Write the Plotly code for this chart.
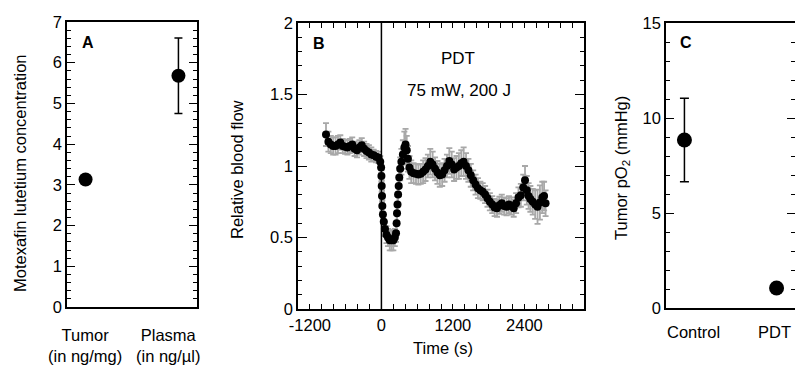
import plotly.graph_objects as go

# ---------------- Data ----------------
# Panel A
a_groups = ["Tumor", "Plasma"]
a_labels = ["Tumor<br>(in ng/mg)", "Plasma<br>(in ng/\u00b5l)"]
a_values = [3.13, 5.68]
a_errors = [0.0, 0.93]

# Panel B: relative blood flow vs time
t_s = [-930, -890, -850, -810, -770, -730, -690, -650, -610, -570, -530, -490,
       -450, -410, -370, -330, -290, -250, -210, -170, -130, -90, -50, -20,
       -5, 0, 5, 10, 15, 25, 40, 60, 85, 110, 140, 170, 200, 225, 245,
       255, 262, 270, 280, 290, 300, 315, 335, 360, 385, 405, 425, 445, 470, 500,
       540, 580, 620, 660, 700, 740, 780, 820, 860, 900, 940, 980, 1020, 1060,
       1100, 1140, 1180, 1220, 1260, 1300, 1340, 1380, 1420, 1460, 1500,
       1540, 1580, 1620, 1660, 1700, 1740, 1780, 1820, 1860, 1900, 1940, 1980,
       2020, 2060, 2100, 2140, 2180, 2220, 2260, 2300, 2340, 2380,
       2410, 2440, 2470, 2500, 2540, 2580, 2620, 2660, 2700, 2730, 2755]
flow = [1.22, 1.17, 1.15, 1.14, 1.14, 1.15, 1.165, 1.14, 1.135, 1.13, 1.14, 1.15,
        1.12, 1.11, 1.13, 1.145, 1.12, 1.105, 1.095, 1.08, 1.075, 1.065, 1.06, 1.03,
        0.99, 0.93, 0.86, 0.79, 0.72, 0.66, 0.61, 0.56, 0.52, 0.50, 0.48, 0.48, 0.48, 0.50, 0.53,
        0.60, 0.67, 0.73, 0.80, 0.86, 0.92, 0.98, 1.03, 1.08, 1.13, 1.15, 1.11, 1.05, 0.99, 0.96,
        0.95, 0.945, 0.94, 0.945, 0.96, 0.975, 1.00, 1.03, 1.01, 0.98, 0.955, 0.935, 0.94, 0.97,
        1.00, 1.035, 1.01, 0.975, 0.99, 1.00, 1.02, 1.03, 1.00, 0.97, 0.935,
        0.90, 0.87, 0.845, 0.83, 0.82, 0.80, 0.775, 0.75, 0.73, 0.71, 0.705, 0.725,
        0.74, 0.72, 0.715, 0.73, 0.72, 0.705, 0.74, 0.78, 0.795, 0.85,
        0.90, 0.83, 0.79, 0.77, 0.75, 0.73, 0.715, 0.745, 0.78, 0.79, 0.74]
flow_err = [0.08, 0.07, 0.06, 0.06, 0.06, 0.06, 0.05, 0.05, 0.05, 0.05, 0.05, 0.05,
            0.05, 0.05, 0.05, 0.05, 0.05, 0.05, 0.05, 0.05, 0.04, 0.04, 0.04, 0.04,
            0.04, 0.04, 0.04, 0.04, 0.04, 0.05, 0.05, 0.05, 0.06, 0.06, 0.07, 0.07, 0.07, 0.06, 0.06,
            0.06, 0.06, 0.06, 0.06, 0.07, 0.07, 0.08, 0.09, 0.10, 0.11, 0.11, 0.10, 0.09, 0.08, 0.08,
            0.07, 0.07, 0.07, 0.07, 0.08, 0.08, 0.08, 0.09, 0.09, 0.08, 0.08, 0.08, 0.08, 0.08,
            0.08, 0.09, 0.09, 0.08, 0.08, 0.09, 0.09, 0.10, 0.09, 0.08, 0.08,
            0.07, 0.07, 0.07, 0.06, 0.06, 0.06, 0.06, 0.06, 0.06, 0.06, 0.06, 0.06,
            0.06, 0.06, 0.06, 0.06, 0.06, 0.06, 0.07, 0.07, 0.08, 0.09,
            0.10, 0.10, 0.09, 0.09, 0.09, 0.10, 0.12, 0.12, 0.11, 0.10, 0.09]
pdt_start = 0
b_xtick_vals = [-1200, 0, 1200, 2400]
b_xtick_text = ["-1200", "0", "1200", "2400"]

# Panel C
c_groups = ["Control", "PDT"]
c_values = [8.84, 1.05]
c_errors = [2.2, 0.0]

# ---------------- Layout helpers ----------------
W, H = 795, 372
FONT = "Liberation Sans, Arial, Helvetica, sans-serif"


def px_x(x):
    return x / W


def px_y(y):
    return 1 - y / H


fig = go.Figure()

fig.add_trace(go.Scatter(
    x=a_groups, y=a_values, mode="markers", xaxis="x", yaxis="y",
    marker=dict(size=14, color="black"),
    error_y=dict(type="data", array=a_errors, color="black", thickness=1.5, width=4),
    showlegend=False))

fig.add_trace(go.Scatter(
    x=t_s, y=flow, mode="markers", xaxis="x2", yaxis="y2",
    marker=dict(size=8, color="black"),
    error_y=dict(type="data", array=flow_err, color="#a8a8a8", thickness=1.8, width=3),
    showlegend=False))

fig.add_trace(go.Scatter(
    x=c_groups, y=c_values, mode="markers", xaxis="x3", yaxis="y3",
    marker=dict(size=15, color="black"),
    error_y=dict(type="data", array=c_errors, color="black", thickness=1.5, width=4.5),
    showlegend=False))

tickfont = dict(family=FONT, size=16.5, color="black")
base = dict(showgrid=False, zeroline=False, showline=True, linecolor="black",
            linewidth=1.5, tickcolor="black", tickwidth=1.2, tickfont=tickfont,
            automargin=False)

A_dom_x = [px_x(67), px_x(197)]
A_dom_y = [px_y(307), px_y(22)]
B_dom_x = [px_x(298), px_x(584)]
B_dom_y = [px_y(309), px_y(23)]
C_dom_x = [px_x(666), 1.0]
C_dom_y = [px_y(308), px_y(23)]

fig.update_layout(
    width=W, height=H, margin=dict(l=0, r=0, t=0, b=0, autoexpand=False),
    paper_bgcolor="white", plot_bgcolor="white",
    font=dict(family=FONT, size=16.5, color="black"),
    xaxis=dict(base, domain=A_dom_x, anchor="y", type="category", range=[-0.2, 1.2],
               showticklabels=False, ticks="", mirror=True),
    yaxis=dict(base, domain=A_dom_y, anchor="x", range=[0, 7], dtick=1, ticks="inside",
               ticklen=8, mirror="allticks",
               minor=dict(dtick=0.2, ticks="inside", ticklen=4, tickcolor="black", tickwidth=1)),
    xaxis2=dict(base, domain=B_dom_x, anchor="y2", range=[-1400, 3400], tickmode="array",
                tickvals=b_xtick_vals, ticktext=b_xtick_text, ticks="inside", ticklen=5,
                mirror="allticks",
                minor=dict(tickmode="linear", tick0=-1400, dtick=200, ticks="inside",
                           ticklen=5, tickcolor="black", tickwidth=1)),
    yaxis2=dict(base, domain=B_dom_y, anchor="x2", range=[0, 2], dtick=0.5, ticks="inside",
                ticklen=9, mirror="allticks",
                minor=dict(dtick=0.1, ticks="inside", ticklen=4, tickcolor="black", tickwidth=1)),
    xaxis3=dict(base, domain=C_dom_x, anchor="y3", type="category", range=[-0.2, 1.2],
                showticklabels=False, ticks="", mirror=True),
    yaxis3=dict(base, domain=C_dom_y, anchor="x3", range=[0, 15], dtick=5, ticks="inside",
                ticklen=8, mirror=False,
                minor=dict(dtick=1, ticks="inside", ticklen=4, tickcolor="black", tickwidth=1)),
    yaxis4=dict(domain=C_dom_y, anchor="x3", overlaying="y3", side="right", range=[0, 15],
                dtick=5, ticks="inside", ticklen=8, tickcolor="black", tickwidth=1.2,
                showline=False, showgrid=False, zeroline=False, showticklabels=False,
                automargin=False,
                minor=dict(dtick=1, ticks="inside", ticklen=4, tickcolor="black", tickwidth=1)),
)

# invisible trace to activate yaxis4
fig.add_trace(go.Scatter(x=c_groups, y=[None, None], xaxis="x3", yaxis="y4",
                         mode="markers", showlegend=False, hoverinfo="skip"))

# vertical line at PDT start
fig.add_shape(type="line", xref="x2", yref="y2 domain", x0=pdt_start, x1=pdt_start,
              y0=0, y1=1, line=dict(color="black", width=1.5))

ann = []


def add_text(text, x, y, size=16.5, bold=False, angle=0):
    if bold:
        text = "<b>" + text + "</b>"
    ann.append(dict(text=text, x=px_x(x), y=px_y(y), xref="paper", yref="paper",
                    showarrow=False, xanchor="center", yanchor="middle",
                    textangle=angle, font=dict(family=FONT, size=size, color="black")))


# Panel labels
add_text("A", 88, 42, size=16, bold=True)
add_text("B", 319, 43, size=16, bold=True)
add_text("C", 686, 42, size=16, bold=True)
add_text("PDT", 458, 59, size=17)
add_text("75 mW, 200 J", 459, 90, size=17)

# Axis titles
add_text("Motexafin lutetium concentration", 20, 173, angle=-90)
add_text("Relative blood flow", 237, 170, angle=-90)
add_text("Tumor pO<sub>2</sub> (mmHg)", 622, 168, angle=-90)
add_text("Time (s)", 443, 348)

# Category labels
add_text(a_labels[0], 85, 345)
add_text(a_labels[1], 168, 345)
add_text(c_groups[0], 693, 332)
add_text(c_groups[1], 774, 332)

fig.update_layout(annotations=ann)

fig.write_html("out.html", config={"displayModeBar": False},
               post_script="document.body.style.margin='0';document.body.style.padding='0';")
